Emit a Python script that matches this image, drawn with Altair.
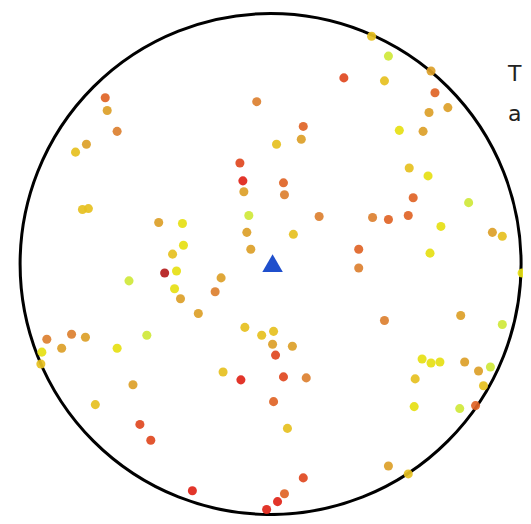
import altair as alt
import pandas as pd

# Sample positions relative to the target (field units), and an intensity level 0..8
xs = [102, 119, 74, 115, 162, 166, 179, 160, -167, -165, -155, -186, -197, -14, 33, 31, 6,
      130, 154, -31, -28, -27, 13, 14, 140, 159, 144, 49, 103, 119, 139, 200, 172, 23, 224,
      234, 89, 89, 161, 254, -190, -184, -113, -89, -22, -24, -20, -88, -99, -95, -107, -50,
      -143, -97, -91, -56, -73, -26, -9, 3, 2, 22, 115, 192, 234, -226, -201, -187, -125,
      -211, -155, -231, -232, -48, -30, -139, -177, 5, 13, 36, 3, 153, 162, 171, 196, 210,
      222, 146, 215, 145, 191, 207, 17, 119, 139, 33, 14, 7, -4, -132, -121, -79]
ys = [230, 210, 188, 185, 195, 173, 158, 153, 168, 155, 134, 121, 113, 164, 139, 126, 121,
      135, 134, 102, 84, 73, 82, 70, 97, 89, 67, 48, 47, 45, 49, 62, 38, 30, 32,
      28, 15, -4, 11, -9, 55, 56, 42, 41, 49, 32, 15, 19, 10, -7, -9, -14,
      -17, -25, -35, -28, -50, -64, -72, -68, -81, -83, -57, -52, -61, -76, -71, -74, -72,
      -85, -85, -89, -101, -109, -117, -122, -142, -92, -114, -115, -139, -96, -100, -99, -99, -108,
      -104, -116, -123, -144, -146, -143, -166, -204, -212, -216, -232, -240, -248, -162, -178, -229]
levels = [2, 0, 6, 2, 3, 5, 3, 3, 5, 3, 4, 3, 2, 4, 5, 3, 2,
          1, 3, 6, 7, 3, 5, 4, 2, 1, 5, 4, 4, 5, 5, 0, 1, 2, 3,
          2, 5, 4, 1, 1, 2, 2, 3, 1, 0, 3, 3, 1, 2, 1, 8, 3,
          0, 1, 3, 4, 3, 2, 2, 2, 3, 3, 4, 3, 0, 4, 4, 3, 0,
          3, 1, 1, 2, 2, 7, 3, 2, 6, 6, 4, 5, 1, 1, 1, 3, 3,
          0, 2, 2, 1, 0, 5, 2, 3, 2, 6, 5, 7, 7, 6, 6, 7]

target_x = [2]
target_y = [1]
field_centre = [0]
labels = ["T", "a"]

pts = pd.DataFrame({"x": xs, "y": ys, "level": levels})
tgt = pd.DataFrame({"x": target_x, "y": target_y})
ring = pd.DataFrame({"x": field_centre, "y": field_centre})
lab = pd.DataFrame({"t": labels, "row": [0, 1]})

xscale = alt.Scale(domain=[-265.2, 254.9], nice=False, zero=False)
yscale = alt.Scale(domain=[-254.5, 258.6], nice=False, zero=False)
noax = None

level_colors = ['#cfe83a', '#e6e014', '#e6c020', '#dca028', '#dc8030',
                '#e06426', '#e04820', '#e02418', '#b41c1c']

circle = alt.Chart(ring).mark_point(
    shape="circle", filled=False, stroke="black", strokeWidth=3, size=501 * 501, opacity=1
).encode(
    x=alt.X("x:Q", scale=xscale, axis=noax),
    y=alt.Y("y:Q", scale=yscale, axis=noax),
)

points = alt.Chart(pts).mark_circle(size=82, opacity=0.92).encode(
    x=alt.X("x:Q", scale=xscale, axis=noax),
    y=alt.Y("y:Q", scale=yscale, axis=noax),
    color=alt.Color("level:O", scale=alt.Scale(domain=list(range(9)), range=level_colors), legend=None),
)

target = alt.Chart(tgt).mark_point(
    shape="triangle-up", filled=True, color="#1f4fcc", size=420, opacity=1
).encode(
    x=alt.X("x:Q", scale=xscale, axis=noax),
    y=alt.Y("y:Q", scale=yscale, axis=noax),
)

text = alt.Chart(lab).mark_text(
    align="left", baseline="alphabetic", fontSize=22, font="DejaVu Sans", color="#222222"
).encode(
    x=alt.value(500),
    y=alt.Y("row:Q", scale=alt.Scale(domain=[0, 1], range=[73, 113]), axis=noax),
    text="t:N",
)

chart = alt.layer(circle, points, target, text).resolve_scale(y="independent").properties(
    width=515, height=508, autosize=alt.AutoSizeParams(type="none"), padding=0
).configure(background="white").configure_view(stroke=None)

chart.save("out.html", embed_options={"renderer": "svg", "actions": False})
